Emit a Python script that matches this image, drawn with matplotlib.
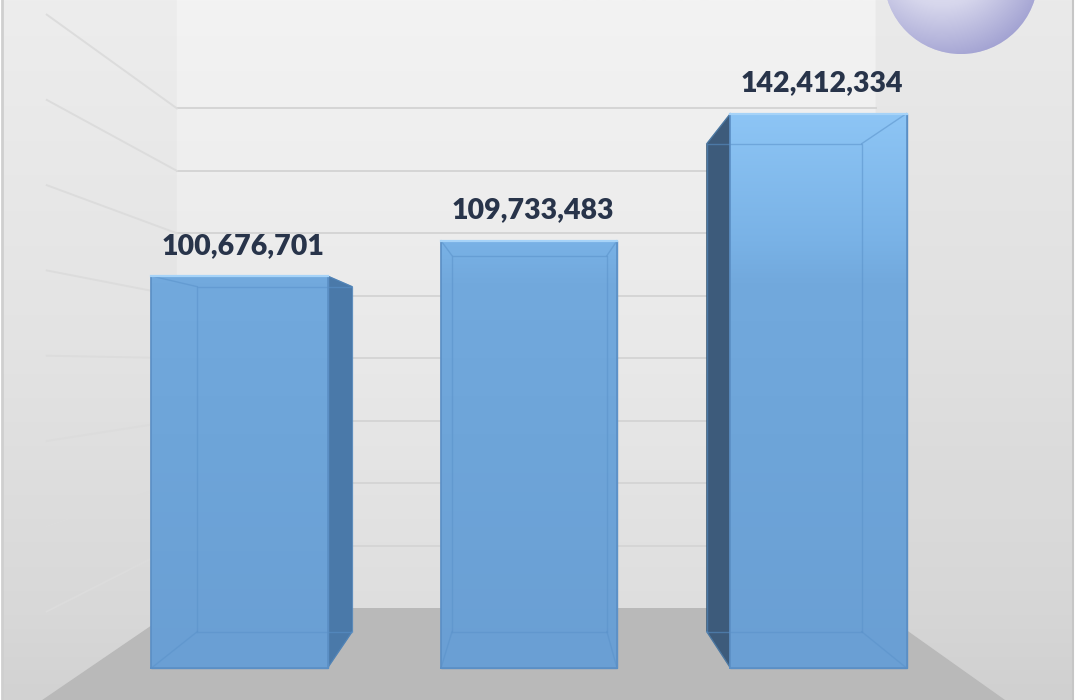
import numpy as np
import matplotlib.pyplot as plt
from matplotlib.patches import Polygon, Ellipse, Arc
from matplotlib.colors import LinearSegmentedColormap

# data
positions = [0, 1, 2]
values = [100676701, 109733483, 142412334]
value_labels = ['100,676,701', '109,733,483', '142,412,334']
grid_values = [20e6, 40e6, 60e6, 80e6, 100e6, 120e6, 140e6, 160e6]

# picture geometry (pixels of the 1080x700 image)
W, H = 1080, 700
X_PX = 289.5          # px per category step
Y_PX = 3.8936e-6      # px per unit of value
X0_PX, Y0_PX = 239.5, 668
L_PX, R_PX = 2, 1073


def to_data(xp, yp):
    return (xp - X0_PX) / X_PX, (Y0_PX - yp) / Y_PX


# perspective: vanishing point and depth scales (front face of bars = 1)
VX, VY = to_data(533, 365)
S_BAR = 0.88
S_WALL = 0.802
S_EDGE = 1.095
S_FAR = 1.8
X_LEFT, X_RIGHT = -0.52, 2.489
BAR_W = 0.608


def proj(x, y, s):
    return VX + s * (x - VX), VY + s * (y - VY)


fig = plt.figure(figsize=(W / 100, H / 100), dpi=100)
fig.patch.set_facecolor('white')
ax = fig.add_axes([L_PX / W, 0, (R_PX - L_PX) / W, 1])
x_lo, y_lo = to_data(L_PX, H)
x_hi, y_hi = to_data(R_PX, 0)

# background gradient
bg = LinearSegmentedColormap.from_list('bg', [(0, '#f3f3f3'), (0.5, '#e9e9e9'),
                                              (0.88, '#dedede'), (1, '#d8d8d8')])
ax.imshow(np.linspace(0, 1, 256).reshape(-1, 1), cmap=bg, aspect='auto',
          extent=(x_lo, x_hi, y_lo, y_hi), origin='upper', zorder=0)

# side walls and floor
big = 800e6
left_wall = Polygon([proj(X_LEFT, 0, S_WALL), proj(X_LEFT, 0, S_FAR),
                     proj(X_LEFT, big, S_FAR), proj(X_LEFT, big, S_WALL)],
                    closed=True, fc='black', alpha=0.022, lw=0, zorder=1)
right_wall = Polygon([proj(X_RIGHT, 0, S_WALL), proj(X_RIGHT, 0, S_FAR),
                      proj(X_RIGHT, big, S_FAR), proj(X_RIGHT, big, S_WALL)],
                     closed=True, fc='black', alpha=0.035, lw=0, zorder=1)
floor = Polygon([proj(X_LEFT, 0, S_WALL), proj(X_RIGHT, 0, S_WALL),
                 proj(X_RIGHT, 0, S_FAR), proj(X_LEFT, 0, S_FAR)],
                closed=True, fc='#b9b9b9', lw=0, zorder=2)
for p in (left_wall, right_wall, floor):
    ax.add_patch(p)

# gridlines on back wall and left wall
for g in grid_values:
    a = proj(X_LEFT, g, S_WALL)
    b = proj(X_RIGHT, g, S_WALL)
    c = proj(X_LEFT, g, S_EDGE)
    ax.plot([a[0], b[0]], [a[1], b[1]], color='#d5d5d5', lw=1.4, zorder=3)
    ax.plot([a[0], c[0]], [a[1], c[1]], color='#dcdcdc', lw=1.4, zorder=3)

# bars
bar_cmap = LinearSegmentedColormap.from_list(
    'bar', [(0, '#6a9fd4'), (0.4, '#6ea5d9'), (0.66, '#72a9dd'),
            (0.73, '#79b2e6'), (0.95, '#8dc5f5'), (1, '#92c9f8')])
bars = ax.bar(positions, values, width=BAR_W, color='#6fa6da',
              edgecolor='#5b8fc5', lw=1.0, zorder=6)

for x, v, patch in zip(positions, values, bars.patches):
    xl, xr = x - BAR_W / 2, x + BAR_W / 2
    if xr < VX:
        side = [(xr, 0), (xr, v), proj(xr, v, S_BAR), proj(xr, 0, S_BAR)]
        ax.add_patch(Polygon(side, closed=True, fc='#4a79a9', ec='#44709e',
                             lw=0.8, zorder=5))
    if xl > VX:
        side = [(xl, 0), (xl, v), proj(xl, v, S_BAR), proj(xl, 0, S_BAR)]
        ax.add_patch(Polygon(side, closed=True, fc='#3d5b7b', ec='#39566f',
                             lw=0.8, zorder=5))

    im = ax.imshow(np.linspace(0, 1, 256).reshape(-1, 1), cmap=bar_cmap,
                   aspect='auto', extent=(x_lo, x_hi, 0, 150e6),
                   origin='lower', zorder=6.1)
    im.set_clip_path(patch)

    # edges of the back face seen through the front
    back = [proj(xl, 0, S_BAR), proj(xr, 0, S_BAR),
            proj(xr, v, S_BAR), proj(xl, v, S_BAR)]
    front = [(xl, 0), (xr, 0), (xr, v), (xl, v)]
    bx = [p[0] for p in back] + [back[0][0]]
    by = [p[1] for p in back] + [back[0][1]]
    ax.plot(bx, by, color='#5a92ca', lw=1.0, alpha=0.55, zorder=6.5)
    for f, b in zip(front, back):
        ax.plot([f[0], b[0]], [f[1], b[1]], color='#5a92ca', lw=1.0,
                alpha=0.55, zorder=6.5)
    # outline of front face
    ax.plot([xl, xr, xr, xl, xl], [0, 0, v, v, 0], color='#5b8fc5', lw=1.2,
            zorder=6.6)
    ax.plot([xl, xr], [v, v], color='#a6d3f8', lw=1.6, zorder=6.7)

for x, v, lab in zip(positions, values, value_labels):
    ax.annotate(lab, (x + 0.012, v), xytext=(0, 16), textcoords='offset points',
                ha='center', va='baseline', fontsize=20.5, fontweight='heavy',
                family='Lato', color='#28344a', zorder=10)

# sphere logo in the top right corner
cx, cy = to_data(961, -23)
sw, sh = 154 / X_PX, 154 / Y_PX
sphere = Ellipse((cx, cy), sw, sh, fc='#c8c8e4', ec='none', zorder=9)
ax.add_patch(sphere)
u, w = np.meshgrid(np.linspace(-1, 1, 200), np.linspace(-1, 1, 200))
d = np.clip(np.hypot(u + 0.25, w - 0.35) / 1.45, 0, 1)
shade = LinearSegmentedColormap.from_list('sph', ['#f4f4fa', '#d6d6ec', '#a2a2d2'])
sim = ax.imshow(d, cmap=shade, aspect='auto', origin='lower',
                extent=(cx - sw / 2, cx + sw / 2, cy - sh / 2, cy + sh / 2),
                zorder=9.1)
sim.set_clip_path(sphere)
ax.add_patch(Arc((cx, cy), sw * 0.94, sh * 0.94, theta1=193, theta2=212,
                 color='#3c3c8e', lw=4, zorder=9.2))

ax.set_xlim(x_lo, x_hi)
ax.set_ylim(y_lo, y_hi)
ax.set_xticks([])
ax.set_yticks([])
for side in ('top', 'bottom'):
    ax.spines[side].set_visible(False)
ax.spines['left'].set_color('#cfcfcf')
ax.spines['left'].set_linewidth(2)
ax.spines['right'].set_color('#c6c6c6')
ax.spines['right'].set_linewidth(1.5)

fig.savefig('out.png', dpi=100)
